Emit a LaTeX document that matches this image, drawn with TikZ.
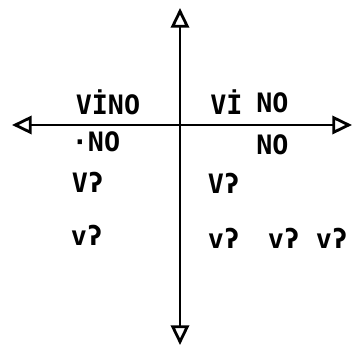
\documentclass[tikz,border=0pt]{standalone}
\usepackage{fontspec}
\setmonofont{DejaVu Sans Mono}
\usetikzlibrary{arrows.meta}

\tikzset{
  axis/.style={line width=2pt, -{Triangle[open,length=14pt,width=13pt,line width=2pt]}},
  lbl/.style={font=\ttfamily\bfseries\fontsize{19}{19}\selectfont, inner sep=0pt}
}

\begin{document}
\begin{tikzpicture}[x=0.025cm,y=-0.025cm,line cap=round,line join=round]
  \useasboundingbox (0,0) rectangle (358,352);

  % Axis ends
  \coordinate (o) at (180,125);
  \coordinate (top) at (180,8);
  \coordinate (bot) at (180,345);
  \coordinate (west) at (12,125);
  \coordinate (east) at (352,125);

  % Axes, arrow at both ends
  \draw[axis] (o) -- (top);
  \draw[axis] (o) -- (bot);
  \draw[axis] (o) -- (west);
  \draw[axis] (o) -- (east);

  % Upper row (above the horizontal axis)
  \node[lbl] (vinoL) at (108,102) {VİNO};
  \node[lbl, anchor=west] (viR) at (210,102) {Vİ};
  \node[lbl, anchor=west] (noR) at (256,103) {NO};

  % Just below the horizontal axis
  \node[lbl] (noL) at (96,142) {·NO};
  \node[lbl, anchor=west] (noR2) at (256,145) {NO};

  % Second and third rows
  \node[lbl] (vqL1) at (88,182) {Vʔ};
  \node[lbl] (vqL2) at (87,235) {vʔ};
  \node[lbl] (vqR1) at (224,183) {Vʔ};
  \foreach \x/\n in {224/a,284/b,332/c}
    \node[lbl] (vq\n) at (\x,238) {vʔ};
\end{tikzpicture}
\end{document}
